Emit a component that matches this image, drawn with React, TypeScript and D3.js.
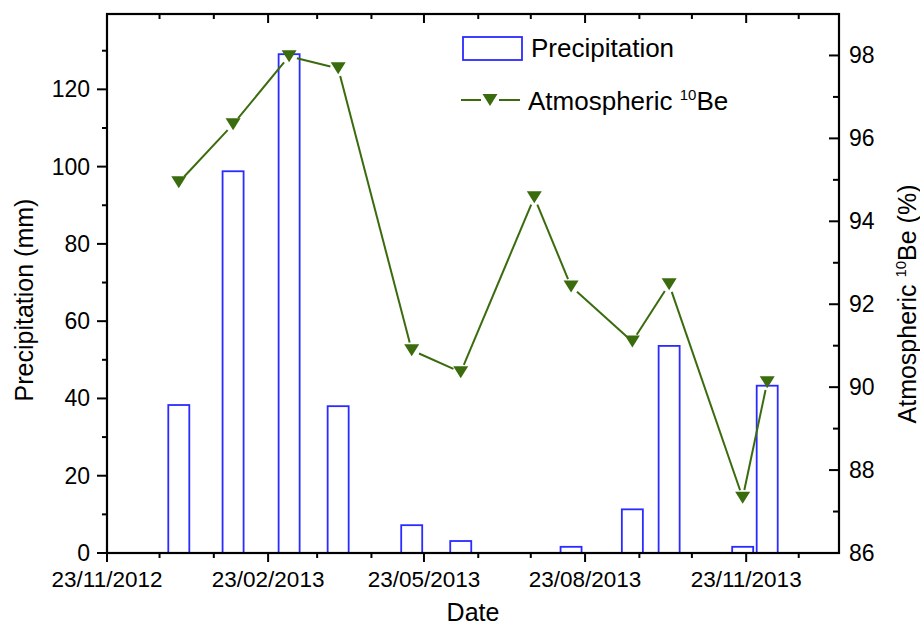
import * as d3 from 'd3';

// sampling dates (dd/mm/yyyy)
const SAMPLE_DATES = [
  '03/01/2013', '03/02/2013', '07/03/2013', '04/04/2013', '16/05/2013', '13/06/2013',
  '25/07/2013', '15/08/2013', '19/09/2013', '10/10/2013', '21/11/2013', '05/12/2013',
];
const PRECIP_MM = [38.3, 98.8, 129.1, 38.0, 7.2, 3.1, 0, 1.6, 11.3, 53.6, 1.6, 43.3];
const BE10_PCT = [94.94, 96.34, 97.98, 97.69, 90.89, 90.36, 94.58, 92.43, 91.1, 92.48, 87.33, 90.12];

const X_TICKS = ['23/11/2012', '23/02/2013', '23/05/2013', '23/08/2013', '23/11/2013'];
const X_DOMAIN = ['23/11/2012', '15/01/2014'];
const PRECIP_TICKS = [0, 20, 40, 60, 80, 100, 120];
const BE_TICKS = [86, 88, 90, 92, 94, 96, 98];

const W = 920;
const H = 629;
const left = 107;
const right = 839;
const top = 14;
const bottom = 553;

const BLUE = '#2b2bff';
const GREEN = '#3a6b0c';
const FONT = 'Arial, "Liberation Sans", sans-serif';

const parse = d3.utcParse('%d/%m/%Y');

function triangle(cx: number, cy: number) {
  const hw = 7.5;
  const hh = 6;
  return `M${cx - hw},${cy - hh}L${cx + hw},${cy - hh}L${cx},${cy + hh}Z`;
}

export default function App() {
  const dates = SAMPLE_DATES.map((d) => parse(d) as Date);
  const x = d3
    .scaleUtc()
    .domain(X_DOMAIN.map((d) => parse(d) as Date))
    .range([left, right]);
  const yP = d3.scaleLinear().domain([0, 139.5]).range([bottom, top]);
  const yB = d3.scaleLinear().domain([86, 99]).range([bottom, top]);

  const start = parse(X_TICKS[0]) as Date;
  const minorX: Date[] = [];
  for (let i = 1; i < 15; i++) {
    const d = d3.utcMonth.offset(start, i);
    if (i % 3 !== 0 && d <= x.domain()[1]) minorX.push(d);
  }
  const majorX = X_TICKS.map((t) => parse(t) as Date);
  const minorP = d3.range(10, 140, 20);
  const minorB = d3.range(87, 99, 2);

  const barHalf = (x(d3.utcDay.offset(dates[0], 6)) - x(d3.utcDay.offset(dates[0], -6))) / 2;

  const pts = dates.map((d, i) => [x(d), yB(BE10_PCT[i])] as [number, number]);
  const gap = 8;
  const segs = pts.slice(1).map((p, i) => {
    const a = pts[i];
    const dx = p[0] - a[0];
    const dy = p[1] - a[1];
    const len = Math.hypot(dx, dy);
    const ux = dx / len;
    const uy = dy / len;
    return [a[0] + ux * gap, a[1] + uy * gap, p[0] - ux * gap, p[1] - uy * gap];
  });

  return (
    <svg
      width={W}
      height={H}
      style={{ position: 'absolute', left: 0, top: 0, background: '#fff' }}
      fontFamily={FONT}
    >
      {/* bars */}
      {dates.map((d, i) =>
        PRECIP_MM[i] > 0 ? (
          <rect
            key={'b' + i}
            x={x(d) - barHalf}
            y={yP(PRECIP_MM[i])}
            width={barHalf * 2}
            height={bottom - yP(PRECIP_MM[i])}
            fill="#fff"
            stroke={BLUE}
            strokeWidth={1.8}
          />
        ) : null,
      )}

      {/* Be line */}
      {segs.map((s, i) => (
        <line key={'s' + i} x1={s[0]} y1={s[1]} x2={s[2]} y2={s[3]} stroke={GREEN} strokeWidth={2} />
      ))}
      {pts.map((p, i) => (
        <path key={'m' + i} d={triangle(p[0], p[1])} fill={GREEN} />
      ))}

      {/* frame */}
      <rect x={left} y={top} width={right - left} height={bottom - top} fill="none" stroke="#000" strokeWidth={2.2} />

      {/* bottom + top axis ticks */}
      {majorX.map((d, i) => (
        <g key={'xt' + i}>
          <line x1={x(d)} x2={x(d)} y1={bottom} y2={bottom + 9} stroke="#000" strokeWidth={2} />
          <line x1={x(d)} x2={x(d)} y1={top} y2={top + 9} stroke="#000" strokeWidth={2} />
          <text x={x(d)} y={587} textAnchor="middle" fontSize={22.5} fill="#000">
            {X_TICKS[i]}
          </text>
        </g>
      ))}
      {minorX.map((d, i) => (
        <g key={'xm' + i}>
          <line x1={x(d)} x2={x(d)} y1={bottom} y2={bottom + 5} stroke="#000" strokeWidth={2} />
          <line x1={x(d)} x2={x(d)} y1={top} y2={top + 5} stroke="#000" strokeWidth={2} />
        </g>
      ))}

      {/* left axis */}
      {PRECIP_TICKS.map((t) => (
        <g key={'yp' + t}>
          <line x1={left - 10} x2={left} y1={yP(t)} y2={yP(t)} stroke="#000" strokeWidth={2} />
          <text x={90} y={yP(t) + 8} textAnchor="end" fontSize={23} fill="#000">
            {t}
          </text>
        </g>
      ))}
      {minorP.map((t) => (
        <line key={'ypm' + t} x1={left - 5} x2={left} y1={yP(t)} y2={yP(t)} stroke="#000" strokeWidth={2} />
      ))}

      {/* right axis (ticks inward) */}
      {BE_TICKS.map((t) => (
        <g key={'yb' + t}>
          <line x1={right - 10} x2={right} y1={yB(t)} y2={yB(t)} stroke="#000" strokeWidth={2} />
          <text x={849} y={yB(t) + 8} textAnchor="start" fontSize={23} fill="#000">
            {t}
          </text>
        </g>
      ))}
      {minorB.map((t) => (
        <line key={'ybm' + t} x1={right - 6} x2={right} y1={yB(t)} y2={yB(t)} stroke="#000" strokeWidth={2} />
      ))}

      {/* axis titles */}
      <text transform="translate(33,300) rotate(-90)" textAnchor="middle" fontSize={25} fill="#000">
        Precipitation (mm)
      </text>
      <text transform="translate(916,304) rotate(-90)" textAnchor="middle" fontSize={25} fill="#000">
        Atmospheric <tspan fontSize={15} dy={-10}>10</tspan>
        <tspan dy={10}>Be (%)</tspan>
      </text>
      <text x={473} y={621} textAnchor="middle" fontSize={25} fill="#000">
        Date
      </text>

      {/* legend */}
      <rect x={463} y={37} width={59} height={23} fill="#fff" stroke={BLUE} strokeWidth={1.8} />
      <text x={531} y={57} fontSize={26} fill="#000">
        Precipitation
      </text>
      <line x1={461} x2={520} y1={100} y2={100} stroke={GREEN} strokeWidth={2} />
      <rect x={481} y={94} width={18} height={12} fill="#fff" />
      <path d={triangle(490, 100)} fill={GREEN} />
      <text x={528} y={110} fontSize={26} fill="#000">
        Atmospheric <tspan fontSize={15} dy={-10}>10</tspan>
        <tspan dy={10}>Be</tspan>
      </text>
    </svg>
  );
}
